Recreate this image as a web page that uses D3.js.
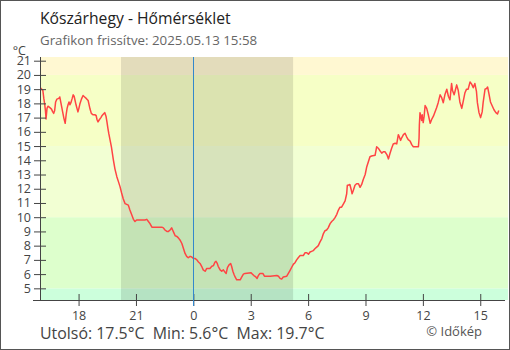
<!DOCTYPE html>
<html>
<head>
<meta charset="utf-8">
<script src="https://cdn.jsdelivr.net/npm/d3@7"></script>
<style>
  body { margin: 0; background: #fff; }
  svg text { font-family: "Open Sans", "Noto Sans", sans-serif; }
</style>
</head>
<body>
<div id="chart"></div>
<script>
// chart texts
var title = "Kőszárhegy - Hőmérséklet";
var subtitle = "Grafikon frissítve: 2025.05.13 15:58";
var footer = "Utolsó: 17.5°C  Min: 5.6°C  Max: 19.7°C";
var credit = "© Időkép";

// minutes from midnight (2025.05.13), negative = previous evening
var timesMin = [-480, -472, -469, -466, -464, -462, -459, -456, -450, -445, -441, -438, -435, -432, -428, -422,
    -419, -416, -413, -410, -406, -402, -399, -396, -393, -390, -387, -384, -380, -377, -374, -371, -368, -365,
    -362, -359, -356, -351, -346, -341, -336, -330, -327, -324, -320, -315, -309, -305, -302, -299, -295, -290,
    -286, -282, -278, -274, -271, -268, -265, -261, -257, -251, -246, -240, -235, -230, -225, -220, -214, -209,
    -204, -199, -193, -188, -183, -178, -173, -162, -152, -146, -141, -136, -130, -120, -110, -99, -94, -89, -83,
    -78, -73, -68, -65, -61, -57, -52, -47, -42, -36, -31, -26, -21, -16, -10, -5, 0, 5, 11, 16, 21, 26, 31, 37,
    42, 52, 58, 63, 68, 71, 75, 78, 84, 89, 94, 99, 103, 107, 112, 117, 120, 124, 128, 131, 136, 147, 152, 157,
    162, 181, 185, 190, 196, 200, 204, 209, 218, 223, 241, 262, 267, 272, 277, 282, 293, 298, 303, 309, 314, 319,
    324, 329, 335, 345, 350, 356, 361, 366, 371, 376, 382, 387, 392, 397, 403, 408, 413, 418, 423, 429, 434, 439,
    444, 450, 455, 460, 465, 470, 476, 481, 483, 486, 491, 495, 498, 502, 507, 512, 518, 523, 528, 533, 539, 544,
    549, 554, 559, 570, 575, 580, 586, 591, 596, 601, 607, 612, 617, 622, 627, 633, 638, 643, 646, 650, 654, 659,
    664, 669, 674, 680, 685, 690, 706, 708, 709, 711, 714, 716, 718, 721, 724, 727, 732, 737, 743, 748, 753, 758,
    763, 768, 774, 779, 784, 789, 795, 800, 805, 810, 813, 818, 821, 826, 831, 836, 842, 847, 852, 857, 862, 868,
    873, 878, 883, 888, 891, 896, 901, 906, 909, 915, 920, 923, 927, 932, 938, 943, 949, 954, 958];

// temperature, °C
var temps = [19.1, 18.9, 18.35, 17.9, 17.5, 16.9, 17.65, 17.8, 17.7, 17.6, 17.4, 17.3, 17.5, 18.1, 18.3, 18.35,
    18.45, 18.1, 17.75, 17.4, 16.95, 16.6, 17.2, 17.65, 17.9, 18.1, 17.9, 18.05, 18.35, 18.6, 18.5, 18.2, 17.9, 17.65,
    17.4, 17.65, 17.95, 18.3, 18.55, 18.45, 18.35, 18.2, 17.9, 17.6, 17.3, 17.2, 17.2, 17.15, 16.85, 16.7, 16.85, 17.0,
    17.15, 17.25, 17.35, 17.1, 16.7, 16.25, 15.85, 15.4, 14.95, 14.05, 13.4, 12.85, 12.5, 12.15, 11.7, 11.3, 10.95, 10.9,
    10.85, 10.5, 10.15, 9.85, 9.7, 9.8, 9.8, 9.8, 9.8, 9.85, 9.7, 9.55, 9.3, 9.3, 9.3, 9.3, 9.25, 9.1, 9.0,
    9.0, 9.1, 9.25, 9.1, 8.9, 8.7, 8.65, 8.55, 8.4, 8.15, 7.8, 7.45, 7.25, 7.15, 7.25, 7.2, 7.1, 7.1, 7.0, 6.85, 6.75, 6.55, 6.3, 6.2,
    6.4, 6.4, 6.55, 6.6, 6.85, 6.9, 6.75, 6.55, 6.3, 6.2, 6.3, 6.15, 6.05, 6.45, 6.65, 6.75, 6.55, 6.2, 5.95, 5.8, 5.6, 5.6, 5.8, 6.0,
    6.05, 6.1, 6.0, 5.9, 5.8, 5.7, 5.9, 6.05, 6.05, 5.85, 5.85, 5.9, 5.85, 5.7, 5.65, 5.8, 5.85, 6.05, 6.25, 6.5, 6.7, 6.8,
    7.0, 7.15, 7.3, 7.3, 7.5, 7.5, 7.4, 7.55, 7.6, 7.65, 7.8, 7.9, 8.0, 8.25, 8.5, 8.85, 9.05, 9.1, 9.25, 9.55, 9.7, 9.8,
    9.95, 10.2, 10.5, 10.7, 10.7, 10.9, 11.15, 11.65, 12.25, 12.25, 12.3, 11.95, 11.65, 11.9, 12.25, 12.35, 12.35, 12.1, 12.3, 12.65, 13.0, 13.55,
    13.9, 14.25, 14.3, 14.35, 14.95, 14.85, 14.65, 14.5, 14.6, 14.6, 14.4, 14.1, 14.5, 14.85, 15.15, 15.2, 15.15, 15.8, 15.65, 15.4, 15.6, 15.8,
    15.9, 15.65, 15.45, 15.35, 15.1, 14.95, 14.95, 15.55, 16.5, 17.35, 17.05, 16.8, 17.2, 16.65, 17.1, 17.85, 17.65, 17.2, 16.6, 16.9, 17.1, 17.4,
    17.7, 18.05, 18.6, 18.4, 18.05, 18.6, 19.0, 18.5, 18.25, 19.4, 18.9, 18.6, 18.85, 19.3, 18.9, 18.1, 17.65, 18.2, 18.75, 19.0, 19.0, 19.5,
    19.35, 19.1, 19.4, 18.85, 18.05, 17.35, 17.0, 17.4, 18.05, 19.0, 19.05, 19.15, 18.7, 18.1, 17.8, 17.55, 17.35, 17.25, 17.5];

// temperature bands: lower limit, upper limit, colour
var bandLow = [0, 5, 10, 15, 20];
var bandHigh = [5, 10, 15, 20, 40];
var bandColors = ["#ccffdc", "#ddffcc", "#f2ffd3", "#f6ffc6", "#fff8d2"];

// night shading (minutes from midnight)
var nightStart = -227;
var nightEnd = 313;

var yTicks = d3.range(5, 22);

var svgWidth = 510;
var svgHeight = 350;
var plot = { left: 40, right: 508, top: 57, bottom: 300 };

var svg = d3.select("#chart").append("svg")
    .attr("width", svgWidth)
    .attr("height", svgHeight);

var midnight = new Date(2025, 4, 13, 0, 0);
function toDate(m) { return new Date(midnight.getTime() + m * 60000); }

var xScale = d3.scaleTime()
    .domain([toDate(-481), toDate(987)])
    .range([plot.left, plot.right]);

var yScale = d3.scaleLinear()
    .domain([4.18, 21.26])
    .range([plot.bottom, plot.top]);

// clip for the plot area
svg.append("clipPath").attr("id", "plotclip")
    .append("rect")
    .attr("x", plot.left).attr("y", plot.top)
    .attr("width", plot.right - plot.left).attr("height", plot.bottom - plot.top);

var plotGroup = svg.append("g").attr("clip-path", "url(#plotclip)");

// background bands
plotGroup.selectAll("rect.band").data(bandLow).enter()
    .append("rect")
    .attr("class", "band")
    .attr("x", plot.left)
    .attr("width", plot.right - plot.left)
    .attr("y", (d, i) => yScale(bandHigh[i]))
    .attr("height", (d, i) => yScale(d) - yScale(bandHigh[i]))
    .attr("fill", (d, i) => bandColors[i]);

// night shade
plotGroup.append("rect")
    .attr("x", xScale(toDate(nightStart)))
    .attr("width", xScale(toDate(nightEnd)) - xScale(toDate(nightStart)))
    .attr("y", plot.top)
    .attr("height", plot.bottom - plot.top)
    .attr("fill", "#000")
    .attr("opacity", 0.11);

// y axis
var yAxis = d3.axisLeft(yScale).tickValues(yTicks).tickSize(6).tickPadding(3).tickSizeOuter(0);
var yAxisGroup = svg.append("g")
    .attr("transform", `translate(${plot.left},0)`)
    .call(yAxis);
yAxisGroup.select(".domain").attr("d", `M0.5,${plot.top}V${plot.bottom}`).attr("stroke", "#444");
yAxisGroup.selectAll(".tick line").attr("x1", 6).attr("x2", -6).attr("stroke", "#444");
yAxisGroup.selectAll(".tick text").attr("font-size", 12.5).attr("fill", "#444");

// x axis
var xAxis = d3.axisBottom(xScale)
    .ticks(d3.timeHour.every(3))
    .tickFormat(d3.timeFormat("%-H"))
    .tickSize(6).tickPadding(5).tickSizeOuter(0);
var xAxisGroup = svg.append("g")
    .attr("transform", `translate(0,${plot.bottom})`)
    .call(xAxis);
xAxisGroup.select(".domain").attr("d", `M33,0.5H${plot.right - 3}`).attr("stroke", "#444");
xAxisGroup.selectAll(".tick line").attr("y1", -6).attr("y2", 6).attr("stroke", "#444");
xAxisGroup.selectAll(".tick text").attr("font-size", 12.5).attr("fill", "#444");

// midnight line
var xMid = Math.round(xScale(midnight)) + 0.5;
svg.append("line")
    .attr("x1", xMid).attr("x2", xMid)
    .attr("y1", plot.top).attr("y2", plot.bottom + 6)
    .attr("stroke", "#3388cc")
    .attr("stroke-width", 1);

// temperature line
var line = d3.line()
    .x((d, i) => xScale(toDate(timesMin[i])))
    .y(d => yScale(d));

plotGroup.append("path")
    .datum(temps)
    .attr("d", line)
    .attr("fill", "none")
    .attr("stroke", "#ff4444")
    .attr("stroke-width", 1.5)
    .attr("stroke-linejoin", "round");

// unit label
svg.append("text")
    .attr("x", 26).attr("y", 55)
    .attr("text-anchor", "end")
    .attr("font-size", 12.5)
    .attr("fill", "#444")
    .text("°C");

// title texts
svg.append("text")
    .attr("x", 40).attr("y", 24)
    .attr("font-size", 15.7)
    .attr("fill", "#222")
    .text(title);

svg.append("text")
    .attr("x", 40).attr("y", 45)
    .attr("font-size", 13.3)
    .attr("fill", "#666")
    .text(subtitle);

// footer
svg.append("text")
    .attr("x", 40).attr("y", 339)
    .attr("font-size", 15.9)
    .attr("fill", "#444")
    .attr("xml:space", "preserve")
    .style("white-space", "pre")
    .text(footer);

svg.append("text")
    .attr("x", 482).attr("y", 336)
    .attr("text-anchor", "end")
    .attr("font-size", 13)
    .attr("fill", "#555")
    .text(credit);

// outer frame
svg.append("rect")
    .attr("x", 0.5).attr("y", 0.5)
    .attr("width", svgWidth - 1).attr("height", svgHeight - 1)
    .attr("fill", "none")
    .attr("stroke", "#555")
    .attr("stroke-width", 1);
</script>
</body>
</html>
